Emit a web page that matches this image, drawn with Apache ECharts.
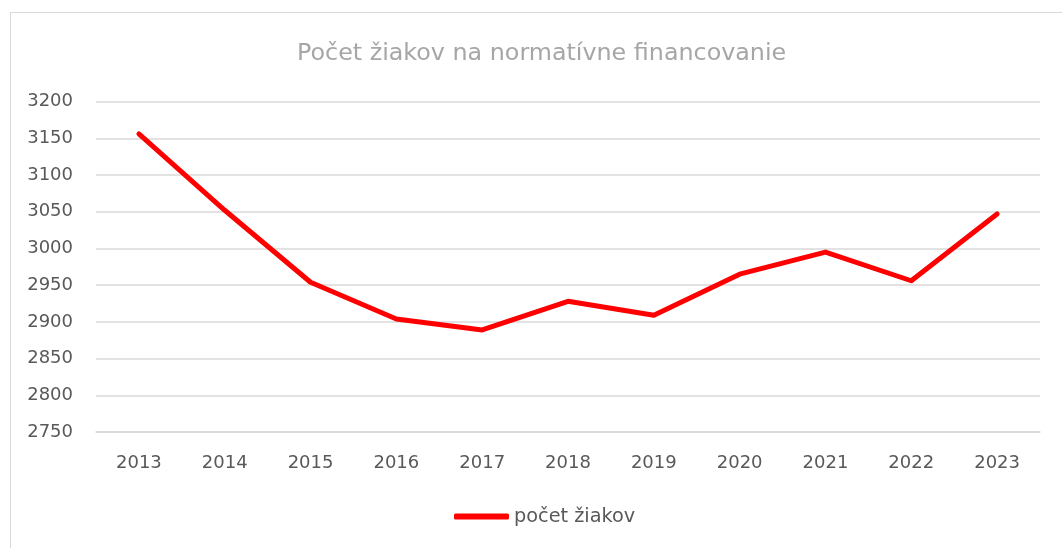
<!DOCTYPE html>
<html>
<head>
<meta charset="utf-8">
<script src="https://cdn.jsdelivr.net/npm/echarts@6/dist/echarts.min.js"></script>
<style>
  html, body { margin: 0; padding: 0; background: #fff; }
  #frame { position: absolute; left: 10px; top: 12px; width: 1060px; height: 545px; border: 1px solid #d9d9d9; }
  #myChart { position: absolute; left: 0; top: 0; width: 1062px; height: 548px; }
</style>
</head>
<body>
<div id="frame"></div>
<div id="myChart"></div>
<script>
// roky a počet žiakov
var years = ["2013", "2014", "2015", "2016", "2017", "2018", "2019", "2020", "2021", "2022", "2023"];
var ziaci = [3156, 3052, 2954, 2904, 2889, 2928, 2909, 2965, 2995, 2956, 3047];
var seriesName = "počet žiakov";
var titleText = "Počet žiakov na normatívne financovanie";

var myChart = echarts.init(document.getElementById("myChart"));
myChart.setOption({
    animation: false,
    title: {
        text: titleText,
        left: 292,
        top: 37,
        textStyle: { color: '#a6a6a6', fontSize: 23.8, fontWeight: 'normal', fontFamily: 'DejaVu Sans' }
    },
    legend: {
        bottom: 17,
        left: 449,
        icon: 'roundRect',
        itemWidth: 55,
        itemHeight: 6,
        textStyle: { color: '#595959', fontSize: 19.3, fontFamily: 'DejaVu Sans', padding: [0, 0, 0, 0] },
        data: [seriesName]
    },
    grid: {
        left: 96,
        right: 22,
        top: 101.6,
        bottom: 116
    },
    xAxis: {
        type: 'category',
        data: years,
        boundaryGap: true,
        axisLine: { lineStyle: { color: '#d9d9d9', width: 1.5 } },
        axisTick: { show: false },
        axisLabel: { color: '#595959', fontSize: 18, fontFamily: 'DejaVu Sans', margin: 22 }
    },
    yAxis: {
        type: 'value',
        min: 2750,
        max: 3200,
        interval: 50,
        axisLine: { show: false },
        axisTick: { show: false },
        axisLabel: {
            color: '#595959', fontSize: 18, fontFamily: 'DejaVu Sans', margin: 23,
            formatter: function (v) { return String(v); }
        },
        splitLine: { lineStyle: { color: '#d9d9d9', width: 1.5 } }
    },
    series: [{
        name: seriesName,
        type: 'line',
        data: ziaci,
        showSymbol: false,
        symbol: 'none',
        lineStyle: { color: '#ff0000', width: 5, cap: 'round', join: 'round' },
        itemStyle: { color: '#ff0000' }
    }]
});
</script>
</body>
</html>
